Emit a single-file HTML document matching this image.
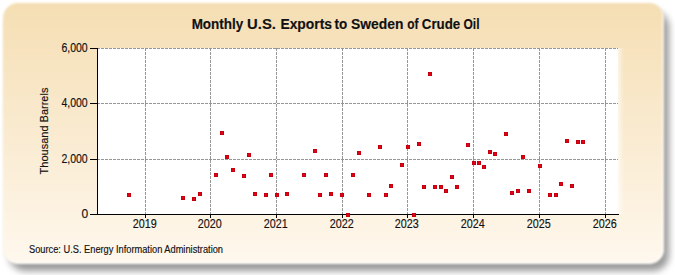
<!DOCTYPE html>
<html><head><meta charset="utf-8"><style>
html,body{margin:0;padding:0;background:#fff;width:675px;height:275px;overflow:hidden}
#shadow{position:absolute;left:8.5px;top:11px;width:660px;height:260px;border-radius:16px;background:rgba(0,0,0,0.4);filter:blur(3.8px)}
#panel{position:absolute;left:3px;top:3px;width:661px;height:260.8px;border-radius:15px;box-shadow:inset -1.5px -1.5px 0 rgba(255,255,255,0.8);
background:linear-gradient(to bottom,#f5deb3 0%,#fff8ee 100%);filter:blur(1.1px)}
svg{position:absolute;left:0;top:0}
text{font-family:"Liberation Sans",sans-serif;fill:#111;stroke:#111;stroke-width:0.15px}
</style></head><body>
<div id="shadow"></div>
<div id="panel"></div>
<svg width="675" height="275" viewBox="0 0 675 275">
<defs><linearGradient id="fade" x1="0" x2="1" y1="0" y2="0"><stop offset="0" stop-color="#fff" stop-opacity="0.6"/><stop offset="1" stop-color="#fff" stop-opacity="0"/></linearGradient></defs>
<rect x="97" y="48" width="521" height="166" fill="#ffffff"/>
<rect x="618" y="48" width="6" height="166" fill="url(#fade)"/>
<line x1="97" y1="48.5" x2="618" y2="48.5" stroke="#969696" stroke-width="1" stroke-dasharray="3 1"/>
<line x1="97" y1="103.5" x2="618" y2="103.5" stroke="#969696" stroke-width="1" stroke-dasharray="3 1"/>
<line x1="97" y1="159.5" x2="618" y2="159.5" stroke="#969696" stroke-width="1" stroke-dasharray="3 1"/>
<line x1="145.5" y1="48" x2="145.5" y2="214" stroke="#969696" stroke-width="1" stroke-dasharray="3 1"/>
<line x1="210.5" y1="48" x2="210.5" y2="214" stroke="#969696" stroke-width="1" stroke-dasharray="3 1"/>
<line x1="276.5" y1="48" x2="276.5" y2="214" stroke="#969696" stroke-width="1" stroke-dasharray="3 1"/>
<line x1="342.5" y1="48" x2="342.5" y2="214" stroke="#969696" stroke-width="1" stroke-dasharray="3 1"/>
<line x1="407.5" y1="48" x2="407.5" y2="214" stroke="#969696" stroke-width="1" stroke-dasharray="3 1"/>
<line x1="473.5" y1="48" x2="473.5" y2="214" stroke="#969696" stroke-width="1" stroke-dasharray="3 1"/>
<line x1="539.5" y1="48" x2="539.5" y2="214" stroke="#969696" stroke-width="1" stroke-dasharray="3 1"/>
<line x1="605.5" y1="48" x2="605.5" y2="214" stroke="#969696" stroke-width="1" stroke-dasharray="3 1"/>
<line x1="97.5" y1="48" x2="97.5" y2="215" stroke="#000" stroke-width="1"/>
<line x1="90" y1="214.5" x2="619" y2="214.5" stroke="#000" stroke-width="1"/>
<line x1="90" y1="48.5" x2="97" y2="48.5" stroke="#000" stroke-width="1"/>
<text x="87.7" y="51.7" text-anchor="end" font-size="12" textLength="26.3" lengthAdjust="spacingAndGlyphs">6,000</text>
<line x1="90" y1="103.5" x2="97" y2="103.5" stroke="#000" stroke-width="1"/>
<text x="87.7" y="106.7" text-anchor="end" font-size="12" textLength="26.3" lengthAdjust="spacingAndGlyphs">4,000</text>
<line x1="90" y1="159.5" x2="97" y2="159.5" stroke="#000" stroke-width="1"/>
<text x="87.7" y="162.7" text-anchor="end" font-size="12" textLength="26.3" lengthAdjust="spacingAndGlyphs">2,000</text>
<line x1="90" y1="214.5" x2="97" y2="214.5" stroke="#000" stroke-width="1"/>
<text x="88.3" y="218.39999999999998" text-anchor="end" font-size="12">0</text>
<line x1="145.5" y1="214" x2="145.5" y2="218" stroke="#000" stroke-width="1"/>
<text x="144.8" y="227.6" text-anchor="middle" font-size="12" textLength="24" lengthAdjust="spacingAndGlyphs">2019</text>
<line x1="210.5" y1="214" x2="210.5" y2="218" stroke="#000" stroke-width="1"/>
<text x="209.8" y="227.6" text-anchor="middle" font-size="12" textLength="24" lengthAdjust="spacingAndGlyphs">2020</text>
<line x1="276.5" y1="214" x2="276.5" y2="218" stroke="#000" stroke-width="1"/>
<text x="275.8" y="227.6" text-anchor="middle" font-size="12" textLength="24" lengthAdjust="spacingAndGlyphs">2021</text>
<line x1="342.5" y1="214" x2="342.5" y2="218" stroke="#000" stroke-width="1"/>
<text x="341.8" y="227.6" text-anchor="middle" font-size="12" textLength="24" lengthAdjust="spacingAndGlyphs">2022</text>
<line x1="407.5" y1="214" x2="407.5" y2="218" stroke="#000" stroke-width="1"/>
<text x="406.8" y="227.6" text-anchor="middle" font-size="12" textLength="24" lengthAdjust="spacingAndGlyphs">2023</text>
<line x1="473.5" y1="214" x2="473.5" y2="218" stroke="#000" stroke-width="1"/>
<text x="472.8" y="227.6" text-anchor="middle" font-size="12" textLength="24" lengthAdjust="spacingAndGlyphs">2024</text>
<line x1="539.5" y1="214" x2="539.5" y2="218" stroke="#000" stroke-width="1"/>
<text x="538.8" y="227.6" text-anchor="middle" font-size="12" textLength="24" lengthAdjust="spacingAndGlyphs">2025</text>
<line x1="605.5" y1="214" x2="605.5" y2="218" stroke="#000" stroke-width="1"/>
<text x="604.8" y="227.6" text-anchor="middle" font-size="12" textLength="24" lengthAdjust="spacingAndGlyphs">2026</text>
<rect x="127" y="193" width="4" height="4" fill="#c4000f"/><rect x="128" y="194" width="2" height="2" fill="#e80018"/>
<rect x="181" y="196" width="4" height="4" fill="#c4000f"/><rect x="182" y="197" width="2" height="2" fill="#e80018"/>
<rect x="192" y="197" width="4" height="4" fill="#c4000f"/><rect x="193" y="198" width="2" height="2" fill="#e80018"/>
<rect x="198" y="192" width="4" height="4" fill="#c4000f"/><rect x="199" y="193" width="2" height="2" fill="#e80018"/>
<rect x="214" y="173" width="4" height="4" fill="#c4000f"/><rect x="215" y="174" width="2" height="2" fill="#e80018"/>
<rect x="220" y="131" width="4" height="4" fill="#c4000f"/><rect x="221" y="132" width="2" height="2" fill="#e80018"/>
<rect x="225" y="155" width="4" height="4" fill="#c4000f"/><rect x="226" y="156" width="2" height="2" fill="#e80018"/>
<rect x="231" y="168" width="4" height="4" fill="#c4000f"/><rect x="232" y="169" width="2" height="2" fill="#e80018"/>
<rect x="242" y="174" width="4" height="4" fill="#c4000f"/><rect x="243" y="175" width="2" height="2" fill="#e80018"/>
<rect x="247" y="153" width="4" height="4" fill="#c4000f"/><rect x="248" y="154" width="2" height="2" fill="#e80018"/>
<rect x="253" y="192" width="4" height="4" fill="#c4000f"/><rect x="254" y="193" width="2" height="2" fill="#e80018"/>
<rect x="264" y="193" width="4" height="4" fill="#c4000f"/><rect x="265" y="194" width="2" height="2" fill="#e80018"/>
<rect x="269" y="173" width="4" height="4" fill="#c4000f"/><rect x="270" y="174" width="2" height="2" fill="#e80018"/>
<rect x="275" y="193" width="4" height="4" fill="#c4000f"/><rect x="276" y="194" width="2" height="2" fill="#e80018"/>
<rect x="285" y="192" width="4" height="4" fill="#c4000f"/><rect x="286" y="193" width="2" height="2" fill="#e80018"/>
<rect x="302" y="173" width="4" height="4" fill="#c4000f"/><rect x="303" y="174" width="2" height="2" fill="#e80018"/>
<rect x="313" y="149" width="4" height="4" fill="#c4000f"/><rect x="314" y="150" width="2" height="2" fill="#e80018"/>
<rect x="318" y="193" width="4" height="4" fill="#c4000f"/><rect x="319" y="194" width="2" height="2" fill="#e80018"/>
<rect x="324" y="173" width="4" height="4" fill="#c4000f"/><rect x="325" y="174" width="2" height="2" fill="#e80018"/>
<rect x="329" y="192" width="4" height="4" fill="#c4000f"/><rect x="330" y="193" width="2" height="2" fill="#e80018"/>
<rect x="340" y="193" width="4" height="4" fill="#c4000f"/><rect x="341" y="194" width="2" height="2" fill="#e80018"/>
<rect x="346" y="213" width="4" height="4" fill="#c4000f"/><rect x="347" y="214" width="2" height="2" fill="#e80018"/>
<rect x="351" y="173" width="4" height="4" fill="#c4000f"/><rect x="352" y="174" width="2" height="2" fill="#e80018"/>
<rect x="357" y="151" width="4" height="4" fill="#c4000f"/><rect x="358" y="152" width="2" height="2" fill="#e80018"/>
<rect x="367" y="193" width="4" height="4" fill="#c4000f"/><rect x="368" y="194" width="2" height="2" fill="#e80018"/>
<rect x="378" y="145" width="4" height="4" fill="#c4000f"/><rect x="379" y="146" width="2" height="2" fill="#e80018"/>
<rect x="384" y="193" width="4" height="4" fill="#c4000f"/><rect x="385" y="194" width="2" height="2" fill="#e80018"/>
<rect x="389" y="184" width="4" height="4" fill="#c4000f"/><rect x="390" y="185" width="2" height="2" fill="#e80018"/>
<rect x="400" y="163" width="4" height="4" fill="#c4000f"/><rect x="401" y="164" width="2" height="2" fill="#e80018"/>
<rect x="406" y="145" width="4" height="4" fill="#c4000f"/><rect x="407" y="146" width="2" height="2" fill="#e80018"/>
<rect x="412" y="213" width="4" height="4" fill="#c4000f"/><rect x="413" y="214" width="2" height="2" fill="#e80018"/>
<rect x="417" y="142" width="4" height="4" fill="#c4000f"/><rect x="418" y="143" width="2" height="2" fill="#e80018"/>
<rect x="422" y="185" width="4" height="4" fill="#c4000f"/><rect x="423" y="186" width="2" height="2" fill="#e80018"/>
<rect x="428" y="72" width="4" height="4" fill="#c4000f"/><rect x="429" y="73" width="2" height="2" fill="#e80018"/>
<rect x="433" y="185" width="4" height="4" fill="#c4000f"/><rect x="434" y="186" width="2" height="2" fill="#e80018"/>
<rect x="439" y="185" width="4" height="4" fill="#c4000f"/><rect x="440" y="186" width="2" height="2" fill="#e80018"/>
<rect x="444" y="189" width="4" height="4" fill="#c4000f"/><rect x="445" y="190" width="2" height="2" fill="#e80018"/>
<rect x="450" y="175" width="4" height="4" fill="#c4000f"/><rect x="451" y="176" width="2" height="2" fill="#e80018"/>
<rect x="455" y="185" width="4" height="4" fill="#c4000f"/><rect x="456" y="186" width="2" height="2" fill="#e80018"/>
<rect x="466" y="143" width="4" height="4" fill="#c4000f"/><rect x="467" y="144" width="2" height="2" fill="#e80018"/>
<rect x="472" y="161" width="4" height="4" fill="#c4000f"/><rect x="473" y="162" width="2" height="2" fill="#e80018"/>
<rect x="477" y="161" width="4" height="4" fill="#c4000f"/><rect x="478" y="162" width="2" height="2" fill="#e80018"/>
<rect x="482" y="165" width="4" height="4" fill="#c4000f"/><rect x="483" y="166" width="2" height="2" fill="#e80018"/>
<rect x="488" y="150" width="4" height="4" fill="#c4000f"/><rect x="489" y="151" width="2" height="2" fill="#e80018"/>
<rect x="493" y="152" width="4" height="4" fill="#c4000f"/><rect x="494" y="153" width="2" height="2" fill="#e80018"/>
<rect x="504" y="132" width="4" height="4" fill="#c4000f"/><rect x="505" y="133" width="2" height="2" fill="#e80018"/>
<rect x="510" y="191" width="4" height="4" fill="#c4000f"/><rect x="511" y="192" width="2" height="2" fill="#e80018"/>
<rect x="516" y="189" width="4" height="4" fill="#c4000f"/><rect x="517" y="190" width="2" height="2" fill="#e80018"/>
<rect x="521" y="155" width="4" height="4" fill="#c4000f"/><rect x="522" y="156" width="2" height="2" fill="#e80018"/>
<rect x="527" y="189" width="4" height="4" fill="#c4000f"/><rect x="528" y="190" width="2" height="2" fill="#e80018"/>
<rect x="538" y="164" width="4" height="4" fill="#c4000f"/><rect x="539" y="165" width="2" height="2" fill="#e80018"/>
<rect x="548" y="193" width="4" height="4" fill="#c4000f"/><rect x="549" y="194" width="2" height="2" fill="#e80018"/>
<rect x="554" y="193" width="4" height="4" fill="#c4000f"/><rect x="555" y="194" width="2" height="2" fill="#e80018"/>
<rect x="559" y="182" width="4" height="4" fill="#c4000f"/><rect x="560" y="183" width="2" height="2" fill="#e80018"/>
<rect x="565" y="139" width="4" height="4" fill="#c4000f"/><rect x="566" y="140" width="2" height="2" fill="#e80018"/>
<rect x="570" y="184" width="4" height="4" fill="#c4000f"/><rect x="571" y="185" width="2" height="2" fill="#e80018"/>
<rect x="576" y="140" width="4" height="4" fill="#c4000f"/><rect x="577" y="141" width="2" height="2" fill="#e80018"/>
<rect x="581" y="140" width="4" height="4" fill="#c4000f"/><rect x="582" y="141" width="2" height="2" fill="#e80018"/>
<text x="191.64" y="29" font-size="14" font-weight="bold" stroke-width="0.05" textLength="51.62" lengthAdjust="spacingAndGlyphs">Monthly</text>
<text x="247.14" y="29" font-size="14" font-weight="bold" stroke-width="0.05" textLength="28.83" lengthAdjust="spacingAndGlyphs">U.S.</text>
<text x="280.39" y="29" font-size="14" font-weight="bold" stroke-width="0.05" textLength="51.64" lengthAdjust="spacingAndGlyphs">Exports</text>
<text x="334.41" y="29" font-size="14" font-weight="bold" stroke-width="0.05" textLength="12.71" lengthAdjust="spacingAndGlyphs">to</text>
<text x="351.03" y="29" font-size="14" font-weight="bold" stroke-width="0.05" textLength="52.39" lengthAdjust="spacingAndGlyphs">Sweden</text>
<text x="407.32" y="29" font-size="14" font-weight="bold" stroke-width="0.05" textLength="11.22" lengthAdjust="spacingAndGlyphs">of</text>
<text x="421.8" y="29" font-size="14" font-weight="bold" stroke-width="0.05" textLength="38.45" lengthAdjust="spacingAndGlyphs">Crude</text>
<text x="463.52" y="29" font-size="14" font-weight="bold" stroke-width="0.05" textLength="15.97" lengthAdjust="spacingAndGlyphs">Oil</text>
<text x="29" y="253" font-size="10" textLength="194" lengthAdjust="spacingAndGlyphs">Source: U.S. Energy Information Administration</text>
<text transform="translate(47.6,131) rotate(-90)" text-anchor="middle" font-size="11">Thousand Barrels</text>
</svg>
</body></html>
